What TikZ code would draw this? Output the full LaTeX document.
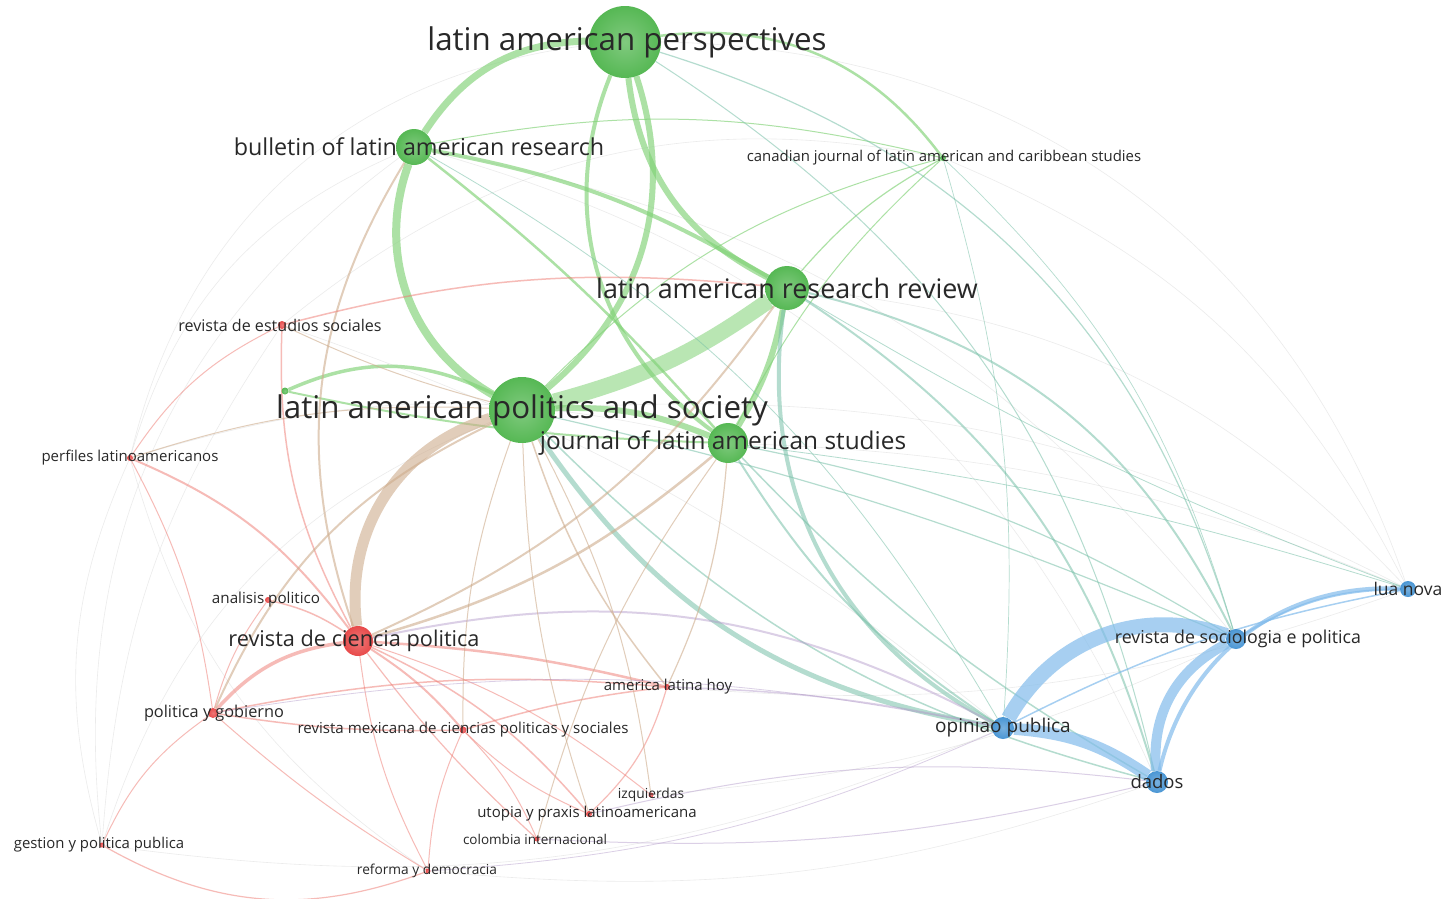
\documentclass[tikz,border=0pt]{standalone}
\usepackage{fontspec}
\setmainfont{Open Sans}
\usepackage{tikz}

\pgfdeclarelayer{edges}
\pgfsetlayers{edges,main}

\definecolor{ngreen}{RGB}{86,184,84}
\definecolor{nred}{RGB}{232,74,74}
\definecolor{nblue}{RGB}{74,150,212}
\definecolor{egreen}{RGB}{128,210,118}
\definecolor{ered}{RGB}{238,120,112}
\definecolor{eblue}{RGB}{130,188,236}
\definecolor{ebrown}{RGB}{206,172,140}
\definecolor{eteal}{RGB}{120,192,168}
\definecolor{epurp}{RGB}{176,150,200}
\definecolor{labgray}{RGB}{40,40,40}

\begin{document}
\begin{tikzpicture}[x=1pt,y=1pt,
        gnode/.style={circle,inner sep=0pt,inner color=ngreen!75!white,outer color=ngreen},
        rnode/.style={circle,inner sep=0pt,inner color=nred!75!white,outer color=nred},
        bnode/.style={circle,inner sep=0pt,inner color=nblue!75!white,outer color=nblue},
        lbl/.style={text=labgray,inner sep=0pt},
        gedge/.style={draw=egreen,draw opacity=0.65},
        redge/.style={draw=ered,draw opacity=0.5},
        bedge/.style={draw=eblue,draw opacity=0.7},
        gredge/.style={draw=ebrown,draw opacity=0.6},
        gbedge/.style={draw=eteal,draw opacity=0.55},
        rbedge/.style={draw=epurp,draw opacity=0.45},
        faint/.style={draw=gray!50,draw opacity=0.3,line width=0.6pt}]

    \useasboundingbox (0,0) rectangle (1443,-898);

    % green
    \node[gnode,minimum size=72pt] (lap) at (625,-42) {};
    \node[gnode,minimum size=36pt] (blar) at (414,-147) {};
    \node[gnode,minimum size=6pt] (cjlacs) at (943,-158) {};
    \node[gnode,minimum size=44pt] (larr) at (787,-288) {};
    \node[gnode,minimum size=66pt] (laps) at (522,-410) {};
    \node[gnode,minimum size=40pt] (jlas) at (728,-443) {};
    \node[gnode,minimum size=7pt] (gsmall) at (285,-391) {};

    % red
    \node[rnode,minimum size=8pt] (res) at (282,-325) {};
    \node[rnode,minimum size=6pt] (perf) at (130,-458) {};
    \node[rnode,minimum size=6pt] (anpol) at (268,-600) {};
    \node[rnode,minimum size=30pt] (rcp) at (358,-641) {};
    \node[rnode,minimum size=10pt] (pyg) at (213,-713) {};
    \node[rnode,minimum size=6pt] (alh) at (667,-687) {};
    \node[rnode,minimum size=7pt] (rmex) at (463,-730) {};
    \node[rnode,minimum size=5pt] (izq) at (651,-795) {};
    \node[rnode,minimum size=6pt] (upl) at (589,-814) {};
    \node[rnode,minimum size=5pt] (colint) at (537,-839) {};
    \node[rnode,minimum size=5pt] (gpp) at (102,-845) {};
    \node[rnode,minimum size=5pt] (ryd) at (428,-871) {};

    % blue
    \node[bnode,minimum size=22pt] (opub) at (1003,-728) {};
    \node[bnode,minimum size=22pt] (dados) at (1157,-782) {};
    \node[bnode,minimum size=20pt] (rsp) at (1236,-639) {};
    \node[bnode,minimum size=16pt] (luanova) at (1408,-589) {};

    \node[lbl,font=\fontsize{31.3}{31}\selectfont] (lap-t) at (627,-42) {latin american perspectives};
    \node[lbl,font=\fontsize{23.3}{23}\selectfont] (blar-t) at (419,-147) {bulletin of latin american research};
    \node[lbl,font=\fontsize{14.9}{15}\selectfont] (cjlacs-t) at (944,-158) {canadian journal of latin american and caribbean studies};
    \node[lbl,font=\fontsize{26.9}{27}\selectfont] (larr-t) at (larr) {latin american research review};
    \node[lbl,font=\fontsize{31.3}{31}\selectfont] (laps-t) at (laps) {latin american politics and society};
    \node[lbl,font=\fontsize{24.4}{24}\selectfont] (jlas-t) at (723,-443) {journal of latin american studies};
    \node[lbl,font=\fontsize{16.1}{16}\selectfont] (res-t) at (280,-325) {revista de estudios sociales};
    \node[lbl,font=\fontsize{15}{15}\selectfont] (perf-t) at (perf) {perfiles latinoamericanos};
    \node[lbl,font=\fontsize{15.2}{15}\selectfont] (anpol-t) at (266,-600) {analisis politico};
    \node[lbl,font=\fontsize{21.7}{22}\selectfont] (rcp-t) at (354,-641) {revista de ciencia politica};
    \node[lbl,font=\fontsize{16.3}{16}\selectfont] (pyg-t) at (214,-713) {politica y gobierno};
    \node[lbl,font=\fontsize{15}{15}\selectfont] (alh-t) at (668,-687) {america latina hoy};
    \node[lbl,font=\fontsize{15.1}{15}\selectfont] (rmex-t) at (rmex) {revista mexicana de ciencias politicas y sociales};
    \node[lbl,font=\fontsize{13.8}{14}\selectfont] (izq-t) at (izq) {izquierdas};
    \node[lbl,font=\fontsize{15}{15}\selectfont] (upl-t) at (587,-814) {utopia y praxis latinoamericana};
    \node[lbl,font=\fontsize{13.5}{14}\selectfont] (colint-t) at (535,-839) {colombia internacional};
    \node[lbl,font=\fontsize{14.9}{15}\selectfont] (gpp-t) at (99,-845) {gestion y politica publica};
    \node[lbl,font=\fontsize{13.7}{14}\selectfont] (ryd-t) at (427,-871) {reforma y democracia};
    \node[lbl,font=\fontsize{19}{19}\selectfont] (opub-t) at (opub) {opiniao publica};
    \node[lbl,font=\fontsize{18.5}{18}\selectfont] (dados-t) at (dados) {dados};
    \node[lbl,font=\fontsize{17.8}{18}\selectfont] (rsp-t) at (1238,-639) {revista de sociologia e politica};
    \node[lbl,font=\fontsize{17.5}{17}\selectfont] (luanova-t) at (luanova) {lua nova};

    \begin{pgfonlayer}{edges}
    \fill[white] (0,0) rectangle (1443,-898);

    % faint long arcs
    \draw[faint] (perf) to[bend left=35] (lap);
    \draw[faint] (perf) to[bend left=25] (blar);
    \draw[faint] (gpp) to[bend left=30] (blar);
    \draw[faint] (gpp) to[bend left=20] (perf);
    \draw[faint] (gpp) to[bend left=25] (laps);
    \draw[faint] (gpp) to[bend left=15] (res);
    \draw[faint] (lap) to[bend left=35] (luanova);
    \draw[faint] (larr) to[bend left=20] (luanova);
    \draw[faint] (cjlacs) to[bend left=20] (luanova);
    \draw[faint] (blar) to[bend left=25] (dados);
    \draw[faint] (res) to[bend left=25] (cjlacs);
    \draw[faint] (perf) to[bend left=15] (jlas);
    \draw[faint] (ryd) to[bend right=12] (dados);
    \draw[faint] (gpp) to[bend right=15] (opub);
    \draw[faint] (luanova) to[bend right=15] (laps);
    \draw[faint] (luanova) to[bend right=10] (jlas);
    \draw[faint] (luanova) to[bend left=12] (alh);
    \draw[faint] (blar) to[bend left=20] (rsp);
    \draw[faint] (res) to[bend left=10] (opub);
    \draw[faint] (perf) to[bend right=20] (ryd);
    \draw[faint] (izq) to[bend right=10] (rsp);

    % green
    \draw[gedge,line width=7pt] (blar) to[bend left=28] (lap);
    \draw[gedge,line width=8pt] (blar) to[bend right=40] (laps);
    \draw[gedge,line width=6pt] (lap) to[bend left=34] (laps);
    \draw[gedge,line width=4pt] (lap) to[bend right=38] (jlas);
    \draw[gedge,line width=6pt] (lap) to[bend right=28] (larr);
    \draw[gedge,line width=2.5pt] (lap) to[bend left=30] (cjlacs);
    \draw[gedge,line width=4pt] (blar) to[bend left=10] (larr);
    \draw[gedge,line width=2.5pt] (blar) to[bend left=5] (jlas);
    \draw[gedge,line width=16pt,draw opacity=0.55] (laps) to[bend right=10] (larr);
    \draw[gedge,line width=6pt] (laps) to[bend left=12] (jlas);
    \draw[gedge,line width=6pt] (larr) to[bend left=10] (jlas);
    \draw[gedge,line width=3.5pt] (gsmall) to[bend left=25] (laps);
    \draw[gedge,line width=2pt] (gsmall) to[bend right=5] (jlas);
    \draw[gedge,line width=1.2pt] (cjlacs) to[bend right=10] (larr);
    \draw[gedge,line width=1pt] (cjlacs) to[bend right=15] (laps);
    \draw[gedge,line width=1pt] (cjlacs) to[bend right=10] (jlas);
    \draw[gedge,line width=1pt] (cjlacs) to[bend right=12] (blar);

    % green to blue
    \draw[gbedge,line width=5pt] (laps) to[bend right=23] (opub);
    \draw[gbedge,line width=4pt] (larr) to[bend right=35] (opub);
    \draw[gbedge,line width=2pt] (larr) to[bend left=25] (rsp);
    \draw[gbedge,line width=2pt] (larr) to[bend left=20] (dados);
    \draw[gbedge,line width=2pt] (jlas) to[bend right=12] (opub);
    \draw[gbedge,line width=1.5pt] (jlas) to[bend right=8] (dados);
    \draw[gbedge,line width=1.2pt] (jlas) to[bend left=10] (rsp);
    \draw[gbedge,line width=1.5pt] (laps) to[bend right=15] (dados);
    \draw[gbedge,line width=1.2pt] (laps) to[bend left=5] (rsp);
    \draw[gbedge,line width=1.2pt] (lap) to[bend left=28] (rsp);
    \draw[gbedge,line width=1pt] (lap) to[bend left=22] (dados);
    \draw[gbedge,line width=0.8pt] (blar) to[bend left=15] (opub);
    \draw[gbedge,line width=0.7pt] (cjlacs) to[bend left=15] (rsp);
    \draw[gbedge,line width=0.7pt] (cjlacs) to[bend left=10] (opub);
    \draw[gbedge,line width=0.8pt] (jlas) to[bend left=5] (luanova);
    \draw[gbedge,line width=0.8pt] (larr) to[bend right=5] (luanova);

    % red and red to green
    \draw[gredge,line width=11pt] (laps) to[bend right=40] (rcp);
    \draw[redge,line width=3.5pt] (rcp) to[bend right=20] (pyg);
    \draw[redge,line width=1.5pt] (rcp) to[bend right=10] (anpol);
    \draw[gredge,line width=2.5pt] (rcp) to[bend right=12] (jlas);
    \draw[gredge,line width=2pt] (rcp) to[bend right=15] (larr);
    \draw[rbedge,line width=2pt] (rcp) to[bend left=20] (opub);
    \draw[redge,line width=2pt] (rcp) to[bend left=8] (rmex);
    \draw[redge,line width=2.5pt] (rcp) to[bend left=5] (alh);
    \draw[redge,line width=1.5pt] (rcp) to[bend left=12] (upl);
    \draw[redge,line width=1.2pt] (rcp) to[bend right=5] (colint);
    \draw[redge,line width=1pt] (rcp) to[bend left=10] (izq);
    \draw[redge,line width=1pt] (rcp) to[bend right=10] (ryd);
    \draw[redge,line width=1.5pt] (res) to[bend right=15] (rcp);
    \draw[redge,line width=2pt] (perf) to[bend left=15] (rcp);
    \draw[gredge,line width=2pt] (rcp) to[bend left=25] (blar);
    \draw[gredge,line width=2pt] (pyg) to[bend left=20] (laps);
    \draw[redge,line width=1pt] (pyg) to[bend right=15] (gpp);
    \draw[redge,line width=1.2pt] (gpp) to[bend right=25] (ryd);
    \draw[redge,line width=1.5pt] (pyg) to[bend right=5] (rmex);
    \draw[redge,line width=1.5pt] (pyg) to[bend left=8] (alh);
    \draw[redge,line width=1pt] (pyg) to[bend right=5] (ryd);
    \draw[redge,line width=1pt] (perf) to[bend left=15] (res);
    \draw[redge,line width=1pt] (perf) to[bend left=10] (pyg);
    \draw[gredge,line width=1pt] (perf) to[bend left=10] (laps);
    \draw[redge,line width=1.5pt] (res) to[bend left=10] (larr);
    \draw[gredge,line width=1pt] (res) to[bend right=5] (laps);
    \draw[redge,line width=1pt] (anpol) to[bend right=10] (pyg);
    \draw[redge,line width=1.5pt] (alh) to[bend right=5] (rmex);
    \draw[redge,line width=1.2pt] (alh) to[bend left=15] (upl);
    \draw[gredge,line width=1.5pt] (alh) to[bend left=10] (laps);
    \draw[gredge,line width=1.2pt] (alh) to[bend right=10] (jlas);
    \draw[rbedge,line width=1.5pt] (alh) to[bend left=5] (opub);
    \draw[redge,line width=1pt] (rmex) to[bend right=10] (upl);
    \draw[redge,line width=1pt] (rmex) to[bend left=10] (colint);
    \draw[redge,line width=1pt] (rmex) to[bend right=10] (ryd);
    \draw[gredge,line width=1pt] (rmex) to[bend left=10] (laps);
    \draw[gredge,line width=1pt] (colint) to[bend left=10] (jlas);
    \draw[gredge,line width=1pt] (upl) to[bend left=8] (laps);
    \draw[gredge,line width=1pt] (izq) to[bend right=10] (laps);
    \draw[rbedge,line width=1pt] (upl) to[bend left=10] (dados);
    \draw[rbedge,line width=1pt] (colint) to[bend right=8] (dados);
    \draw[rbedge,line width=0.8pt] (ryd) to[bend right=10] (opub);
    \draw[rbedge,line width=0.8pt] (pyg) to[bend left=10] (opub);

    % blue
    \draw[bedge,line width=15pt] (opub) to[bend left=40] (rsp);
    \draw[bedge,line width=12pt] (opub) to[bend left=15] (dados);
    \draw[bedge,line width=10pt] (rsp) to[bend right=34] (dados);
    \draw[bedge,line width=4pt] (luanova) to[bend right=40] (dados);
    \draw[bedge,line width=2pt] (luanova) to[bend right=15] (rsp);
    \draw[bedge,line width=1.5pt] (luanova) to[bend right=8] (opub);
    \end{pgfonlayer}
\end{tikzpicture}
\end{document}
